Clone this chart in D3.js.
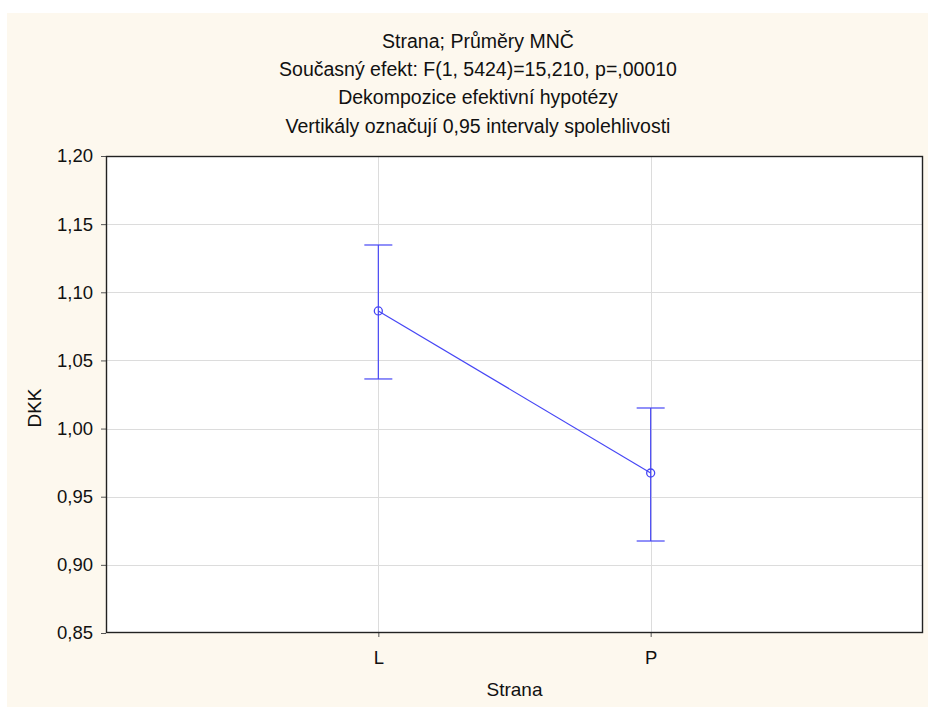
<!DOCTYPE html>
<html><head><meta charset="utf-8">
<script src="https://cdn.jsdelivr.net/npm/d3@7"></script>
<style>body{margin:0;background:#fff}svg{display:block}</style>
</head><body>
<svg id="c" width="928" height="707"></svg>
<script>
const categories = ["L", "P"];
const means = [1.0863, 0.9674];
const upper = [1.1347, 1.0151];
const lower = [1.0364, 0.9175];
const yTicks = [0.85, 0.90, 0.95, 1.00, 1.05, 1.10, 1.15, 1.20];
const titleLines = ["Strana; Průměry MNČ", "Současný efekt: F(1, 5424)=15,210, p=,00010", "Dekompozice efektivní hypotézy", "Vertikály označují 0,95 intervaly spolehlivosti"];
const xTitle = "Strana";
const yTitle = "DKK";

const svg = d3.select("#c");
const W = 928, H = 707;
const m = {left:106, right:923, top:156, bottom:633};
const col = "#4646f5";

svg.append("rect").attr("x",7).attr("y",13).attr("width",W-7).attr("height",H-13).attr("fill","#fdf8ee");

const x = d3.scalePoint().domain(categories).range([m.left, m.right]).padding(1);
const y = d3.scaleLinear().domain([0.85, 1.20]).range([m.bottom, m.top]);

svg.append("rect").attr("x",m.left).attr("y",m.top).attr("width",m.right-m.left).attr("height",m.bottom-m.top).attr("fill","#fff");

// gridlines
svg.append("g").selectAll("line").data(yTicks.slice(1,-1)).join("line")
  .attr("x1",m.left).attr("x2",m.right).attr("y1",d=>Math.round(y(d))+0.5).attr("y2",d=>Math.round(y(d))+0.5)
  .attr("stroke","#dcdcdc").attr("stroke-width",1);
svg.append("g").selectAll("line").data(categories).join("line")
  .attr("y1",m.top).attr("y2",m.bottom).attr("x1",d=>Math.round(x(d))+0.5).attr("x2",d=>Math.round(x(d))+0.5)
  .attr("stroke","#dcdcdc").attr("stroke-width",1);

// axes
const yAxis = d3.axisLeft(y).tickValues(yTicks).tickFormat(d=>d3.format(".2f")(d).replace(".",",")).tickSize(5).tickPadding(8);
const gy = svg.append("g").attr("transform",`translate(${m.left},0)`).call(yAxis);
gy.select(".domain").remove();
gy.selectAll("line").attr("stroke","#555");
gy.selectAll("text").attr("font-family","Liberation Sans, Arial, sans-serif").attr("font-size",18.5).attr("fill","#111");

const xAxis = d3.axisBottom(x).tickSize(4).tickPadding(14);
const gx = svg.append("g").attr("transform",`translate(0,${m.bottom})`).call(xAxis);
gx.select(".domain").remove();
gx.selectAll("line").attr("stroke","#555");
gx.selectAll("text").attr("font-family","Liberation Sans, Arial, sans-serif").attr("font-size",18.5).attr("fill","#111");

// frame
svg.append("rect").attr("x",m.left+0.5).attr("y",m.top+0.5).attr("width",m.right-m.left-1).attr("height",m.bottom-m.top-1)
  .attr("fill","none").attr("stroke","#222").attr("stroke-width",1.4);

// error bars
const eb = svg.append("g").attr("stroke",col).attr("stroke-width",1.2).attr("fill","none");
categories.forEach((c,i)=>{
  const cx = x(c);
  eb.append("line").attr("x1",cx).attr("x2",cx).attr("y1",y(upper[i])).attr("y2",y(lower[i]));
  eb.append("line").attr("x1",cx-14).attr("x2",cx+14).attr("y1",y(upper[i])).attr("y2",y(upper[i]));
  eb.append("line").attr("x1",cx-14).attr("x2",cx+14).attr("y1",y(lower[i])).attr("y2",y(lower[i]));
});
const line = d3.line().x((d,i)=>x(categories[i])).y(d=>y(d));
svg.append("path").datum(means).attr("d",line).attr("fill","none").attr("stroke",col).attr("stroke-width",1.2);
svg.append("g").selectAll("circle").data(means).join("circle")
  .attr("cx",(d,i)=>x(categories[i])).attr("cy",d=>y(d)).attr("r",4)
  .attr("fill","none").attr("stroke",col).attr("stroke-width",1.3);

// titles
const tf = "Liberation Sans, Arial, sans-serif";
svg.append("g").selectAll("text").data(titleLines).join("text")
  .attr("x",478).attr("y",(d,i)=>[48,76,104,133][i]).attr("text-anchor","middle")
  .attr("font-family",tf).attr("font-size",19.5).attr("fill","#111").text(d=>d);

svg.append("text").attr("x",(m.left+m.right)/2).attr("y",696).attr("text-anchor","middle")
  .attr("font-family",tf).attr("font-size",19).attr("fill","#111").text(xTitle);
svg.append("text").attr("transform","translate(41,408) rotate(-90)").attr("text-anchor","middle")
  .attr("font-family",tf).attr("font-size",19).attr("fill","#111").text(yTitle);
</script>
</body></html>
